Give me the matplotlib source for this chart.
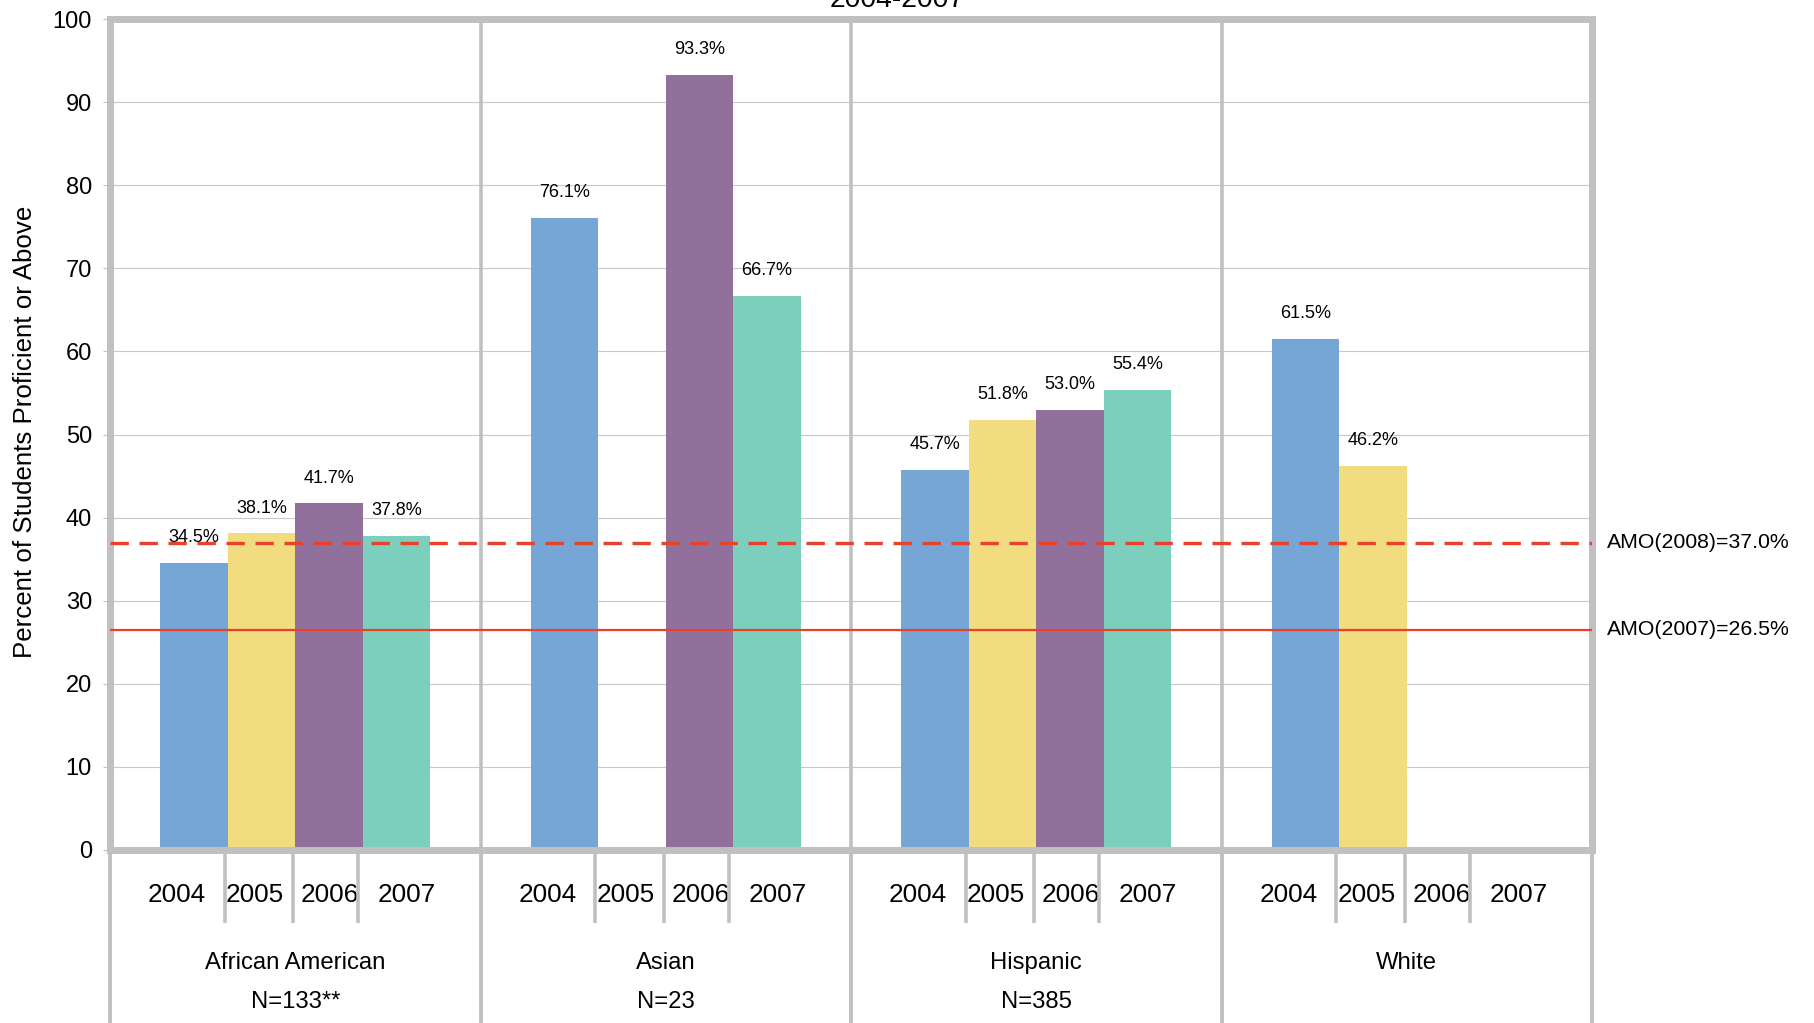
import numpy as np
import matplotlib
matplotlib.use("Agg")
import matplotlib.pyplot as plt
import matplotlib.transforms as mtransforms

plt.rcParams['font.family'] = ['Liberation Sans', 'DejaVu Sans']

# ---------------- data ----------------
groups = ["African American", "Asian", "Hispanic", "White"]
group_n = ["N=133**", "N=23", "N=385", ""]
years = ["2004", "2005", "2006", "2007"]
v2004 = [34.5, 76.1, 45.7, 61.5]
v2005 = [38.1, np.nan, 51.8, 46.2]
v2006 = [41.7, 93.3, 53.0, np.nan]
v2007 = [37.8, 66.7, 55.4, np.nan]
series = [v2004, v2005, v2006, v2007]
amo_2008 = 37.0
amo_2007 = 26.5
yticks = [0, 10, 20, 30, 40, 50, 60, 70, 80, 90, 100]
title = "2004-2007"
ylabel = "Percent of Students Proficient or Above"

colors = ["#76A6D6", "#F2DC80", "#91719B", "#7CCEBD"]
red = "#E8412C"
frame = "#C0C0C0"
txt = "#000000"

W, H = 1814, 1023
fig = plt.figure(figsize=(W / 100, H / 100), dpi=100)
left, right, top, bottom = 110, 1592, 19, 850
ax = fig.add_axes([left / W, (H - bottom) / H, (right - left) / W, (bottom - top) / H])

ax.set_xlim(0, len(groups))
ax.set_ylim(0, 100)

bw = 0.182
x = np.arange(len(groups)) + 0.5
for i, (vals, c) in enumerate(zip(series, colors)):
    xs = x + (i - 1.5) * bw
    ax.bar(xs, vals, width=bw, color=c, zorder=2, linewidth=0)
    for xi, v in zip(xs, vals):
        if not np.isnan(v):
            ax.annotate(f"{v:.1f}%", (xi, v), xytext=(0, 15), textcoords="offset points",
                        ha="center", va="baseline", fontsize=13, color=txt, zorder=6)

# grid
ax.set_yticks(yticks)
ax.yaxis.grid(True, color="#C8C8C8", linewidth=0.8, zorder=0)
ax.set_axisbelow(True)
ax.set_xticks([])
ax.tick_params(axis="y", length=5, width=0.8, color=frame, pad=8, labelsize=17, labelcolor=txt)

for s in ax.spines.values():
    s.set_color(frame)
    s.set_linewidth(5)
    s.set_zorder(4)

# AMO lines
ax.axhline(amo_2008, color=red, linewidth=2.4, linestyle=(0, (5.5, 3.2)), zorder=5)
ax.axhline(amo_2007, color=red, linewidth=1.6, zorder=5)
trans_ay = mtransforms.blended_transform_factory(ax.transAxes, ax.transData)
ax.text(1.010, amo_2008, "AMO(2008)=37.0%", transform=trans_ay, ha="left", va="center",
        fontsize=15.3, color=txt)
ax.text(1.010, amo_2007, "AMO(2007)=26.5%", transform=trans_ay, ha="left", va="center",
        fontsize=15.3, color=txt)

# separators
tr = mtransforms.blended_transform_factory(ax.transData, ax.transAxes)
yb = -(H - bottom) / (bottom - top) - 0.01
for g in range(len(groups) + 1):
    if 0 < g < len(groups):
        ax.plot([g, g], [1, 0], color=frame, linewidth=2.6, transform=tr, clip_on=False, zorder=3)
    ax.plot([g, g], [0, yb], color=frame, linewidth=2.8, transform=tr, clip_on=False, zorder=7,
            solid_capstyle="butt")

year_sep = [0.31, 0.495, 0.67]
year_pos = [0.181, 0.391, 0.594, 0.802]
sep_bottom = -(923 - bottom) / (bottom - top)
for g in range(len(groups)):
    for f in year_sep:
        ax.plot([g + f, g + f], [0, sep_bottom], color=frame, linewidth=2.6, transform=tr,
                clip_on=False, zorder=7, solid_capstyle="butt")
    for f, yr in zip(year_pos, years):
        ax.text(g + f, -(895 - bottom) / (bottom - top), yr, transform=tr, ha="center",
                va="center", fontsize=18.8, color=txt, zorder=6)
    ax.text(g + 0.5, -(963 - bottom) / (bottom - top), groups[g], transform=tr, ha="center",
            va="center", fontsize=17.2, color=txt)
    if group_n[g]:
        ax.text(g + 0.5, -(1002 - bottom) / (bottom - top), group_n[g], transform=tr,
                ha="center", va="center", fontsize=17.2, color=txt)

fig.text(25 / W, 1 - 432 / H, ylabel, rotation=90, ha="center", va="center", fontsize=18.6,
         color=txt)
fig.text(897 / W, 1 - 7 / H, title, ha="center", va="baseline", fontsize=20.3, color=txt)

fig.savefig("out.png", dpi=100)
